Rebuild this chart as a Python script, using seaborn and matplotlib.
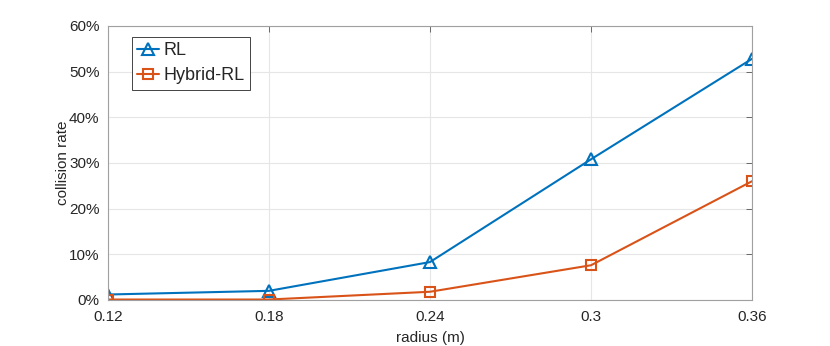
import pandas as pd
import matplotlib
matplotlib.use('Agg')
import matplotlib.pyplot as plt
import seaborn as sns
from matplotlib.ticker import PercentFormatter

# Data
radius = [0.12, 0.18, 0.24, 0.30, 0.36]
rl_rate = [1.2, 2.0, 8.3, 30.8, 52.8]
hybrid_rate = [0.1, 0.1, 1.8, 7.6, 26.0]
x_ticks = [0.12, 0.18, 0.24, 0.3, 0.36]
x_tick_labels = ['0.12', '0.18', '0.24', '0.3', '0.36']

df = pd.DataFrame({
    'radius': radius * 2,
    'rate': rl_rate + hybrid_rate,
    'method': ['RL'] * len(radius) + ['Hybrid-RL'] * len(radius),
})

sns.set_style("whitegrid", {"grid.color": "#e6e6e6", "axes.edgecolor": "#b0b0b0"})
plt.rcParams['font.family'] = ['Liberation Sans', 'DejaVu Sans']

fig = plt.figure(figsize=(8.3, 3.46), dpi=100)
ax = fig.add_axes([0.130, 0.133, 0.776, 0.792])

colors = {'RL': '#0072BD', 'Hybrid-RL': '#D95319'}
sns.lineplot(
    data=df, x='radius', y='rate', hue='method', style='method',
    markers={'RL': '^', 'Hybrid-RL': 's'}, dashes=False,
    palette=colors, linewidth=1.5, markersize=8,
    markerfacecolor='none', markeredgewidth=1.5, ax=ax,
)
# hollow markers in the line colour, squares a bit smaller
sizes = {'^': 8.5, 's': 6.5}
for line in ax.lines:
    line.set_markeredgecolor(line.get_color())
    line.set_markerfacecolor('none')
    m = line.get_marker()
    if m in sizes:
        line.set_markersize(sizes[m])

ax.set_xlim(0.12, 0.36)
ax.set_ylim(0, 60)
ax.set_xticks(x_ticks)
ax.set_xticklabels(x_tick_labels)
ax.set_yticks(range(0, 61, 10))
ax.yaxis.set_major_formatter(PercentFormatter(decimals=0))

ax.set_xlabel('radius (m)', fontsize=11, color='#262626', labelpad=5)
ax.set_ylabel('collision rate', fontsize=11, color='#262626', labelpad=-1)
ax.tick_params(axis='both', direction='in', length=4, labelsize=11,
               labelcolor='#262626', top=True, right=True, width=0.6,
               color='#555555')
ax.tick_params(axis='y', pad=6)
ax.tick_params(axis='x', pad=7)
for sp in ax.spines.values():
    sp.set_color('#a0a0a0')
    sp.set_linewidth(0.8)
ax.grid(True, color='#e6e6e6', linewidth=0.8)

handles, labels = ax.get_legend_handles_labels()
leg = ax.legend(handles, labels, loc='upper left', bbox_to_anchor=(0.037, 0.96),
                fontsize=13, frameon=True, fancybox=False, framealpha=1,
                edgecolor='#262626', handlelength=1.2, borderpad=0.3,
                labelspacing=0.45, handletextpad=0.25, borderaxespad=0)
leg.get_frame().set_linewidth(0.6)
for h in leg.get_lines():
    h.set_markerfacecolor('none')
    h.set_markeredgecolor(h.get_color())
    h.set_markeredgewidth(1.5)

fig.savefig('out.png', dpi=100, facecolor='white')
